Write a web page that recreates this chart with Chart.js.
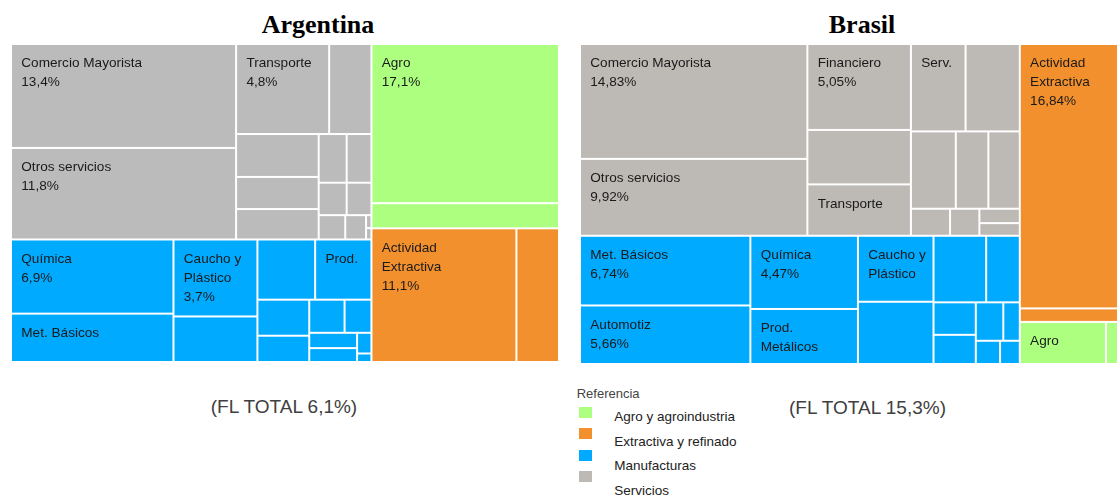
<!DOCTYPE html>
<html>
<head>
<meta charset="utf-8">
<script src="https://cdn.jsdelivr.net/npm/chart.js@4.4.0/dist/chart.umd.min.js"></script>
<style>
html, body { margin:0; padding:0; width:1117px; height:497px; overflow:hidden; background:#fff; font-family:"Liberation Sans", Arial, sans-serif; }
.abs { position:absolute; white-space:nowrap; }
.title { font-family:"Liberation Serif", "Times New Roman", serif; font-weight:bold; font-size:26px; line-height:26px; width:300px; text-align:center; color:#000; }
.fl { font-size:19px; line-height:19px; width:300px; text-align:center; color:#404040; }
.ref { font-size:13px; line-height:13px; color:#444; }
.item { font-size:13.5px; line-height:13.5px; color:#222; }
.sq { position:absolute; width:13px; height:11px; }
canvas { position:absolute; }
</style>
</head>
<body>
<div class="abs title" style="left:168px; top:12px">Argentina</div>
<div class="abs title" style="left:712px; top:12px">Brasil</div>
<canvas id="chartArg" width="548" height="318" style="left:11px; top:44px"></canvas>
<canvas id="chartBra" width="552" height="320" style="left:580px; top:44px"></canvas>
<div class="abs fl" style="left:134px; top:397.2px">(FL TOTAL 6,1%)</div>
<div class="abs fl" style="left:717.5px; top:398.2px">(FL TOTAL 15,3%)</div>
<div id="legend"></div>
<script>
// groups / colors (legend order)
const groupNames = ['Agro y agroindustria', 'Extractiva y refinado', 'Manufacturas', 'Servicios'];
const groupColors = ['#ADFF80', '#F2902E', '#00AAFF', '#BDBAB6'];
const argGrey = '#BBBBBB';

// Argentina (% of total)
const argServ = [13.4, 11.8, 4.8, 2.18, 2.03, 1.52, 1.44, 0.78, 0.69, 0.52, 0.46, 0.37, 0.29, 0.04, 0.035];
const argServNames = ['Comercio Mayorista', 'Otros servicios', 'Transporte'];
const argServPct = [1, 1, 1];
const argManuf = [6.9, 4.5, 3.7, 2.19, 1.99, 1.94, 1.07, 0.78, 0.67, 0.51, 0.42, 0.38, 0.17, 0.07];
const argManufNames = ['Química', 'Met. Básicos', 'Caucho y\nPlástico', '', '', 'Prod.'];
const argManufPct = [1, 0, 1];
const argAgro = [17.1, 2.7];
const argAgroNames = ['Agro'];
const argAgroPct = [1];
const argExtr = [11.1, 3.26];
const argExtrNames = ['Actividad\nExtractiva'];
const argExtrPct = [1];

// Brasil
const braServ = [14.83, 9.92, 5.05, 3.20, 3.02, 2.71, 2.69, 1.97, 1.43, 1.38, 0.60, 0.45, 0.33, 0.29];
const braServNames = ['Comercio Mayorista', 'Otros servicios', 'Financiero', '', 'Transporte', 'Serv.'];
const braServPct = [1, 1, 1];
const braManuf = [6.74, 5.66, 4.47, 3.36, 2.83, 2.67, 1.99, 1.27, 0.78, 0.70, 0.60, 0.36, 0.32, 0.26];
const braManufNames = ['Met. Básicos', 'Automotiz', 'Química', 'Prod.\nMetálicos', 'Caucho y\nPlástico'];
const braManufPct = [1, 1, 1];
const braExtr = [16.84, 0.86];
const braExtrNames = ['Actividad\nExtractiva'];
const braExtrPct = [1];
const braAgro = [2.06, 0.62];
const braAgroNames = ['Agro'];
const braAgroPct = [0];

// strip layout: v = column (stacked), h = row (side by side), number = items in the strip
function slice(values, spec, box) {
    let out = [];
    let rest = values.reduce((a, b) => a + b, 0);
    let b = Object.assign({}, box);
    let i = 0;
    spec.split(' ').forEach(step => {
        let n = +step.slice(1);
        let part = values.slice(i, i + n);
        let s = part.reduce((a, c) => a + c, 0);
        if (step[0] === 'v') {
            let xm = b.x0 + (b.x1 - b.x0) * s / rest;
            let y = b.y0;
            part.forEach(v => {
                let y2 = y + (b.y1 - b.y0) * v / s;
                out.push({x0: b.x0, x1: xm, y0: y, y1: y2});
                y = y2;
            });
            b.x0 = xm;
        } else {
            let ym = b.y0 + (b.y1 - b.y0) * s / rest;
            let x = b.x0;
            part.forEach(v => {
                let x2 = x + (b.x1 - b.x0) * v / s;
                out.push({x0: x, x1: x2, y0: b.y0, y1: ym});
                x = x2;
            });
            b.y0 = ym;
        }
        rest -= s;
        i += n;
    });
    return out;
}

function sum(a) { return a.reduce((p, c) => p + c, 0); }

// groups: [{values, names, pct, color, spec}], in layout order
function buildDatasets(groups, topSpec) {
    let boxes = slice(groups.map(g => sum(g.values)), topSpec, {x0: 0, x1: 100, y0: 0, y1: 100});
    return groups.map((g, gi) => {
        let cells = slice(g.values, g.spec, boxes[gi]);
        return {
            label: g.label,
            backgroundColor: g.color,
            pointRadius: 0,
            data: cells.map((c, k) => Object.assign(c, {
                x: (c.x0 + c.x1) / 2,
                y: (c.y0 + c.y1) / 2,
                v: g.values[k],
                name: g.names[k] || '',
                pct: g.pct[k] || 0
            }))
        };
    });
}

const cellPlugin = {
    id: 'cells',
    afterDatasetsDraw(chart, args, opts) {
        let ctx = chart.ctx, xs = chart.scales.x, ys = chart.scales.y;
        ctx.save();
        chart.data.datasets.forEach(ds => {
            ds.data.forEach(c => {
                let l = xs.getPixelForValue(c.x0), r = xs.getPixelForValue(c.x1);
                let t = ys.getPixelForValue(c.y0), btm = ys.getPixelForValue(c.y1);
                ctx.fillStyle = ds.backgroundColor;
                ctx.fillRect(l + 1, t + 1, r - l - 2, btm - t - 2);
                if (!c.name) return;
                let lines = c.name.split('\n');
                if (c.pct) lines.push(c.v.toFixed(opts.decimals).replace('.', ',') + '%');
                ctx.fillStyle = '#1a1a1a';
                ctx.font = '13.6px "Liberation Sans", Arial, sans-serif';
                ctx.textBaseline = 'middle';
                ctx.textAlign = 'left';
                lines.forEach((txt, k) => ctx.fillText(txt, l + 10.3, t + 19.5 + k * 19));
            });
        });
        ctx.restore();
    }
};

function makeChart(id, datasets, decimals) {
    return new Chart(document.getElementById(id), {
        type: 'scatter',
        data: {datasets: datasets},
        options: {
            responsive: false,
            animation: false,
            events: [],
            layout: {padding: 0},
            plugins: {
                legend: {display: false},
                tooltip: {enabled: false},
                title: {display: false},
                cells: {decimals: decimals}
            },
            scales: {
                x: {type: 'linear', min: 0, max: 100, display: false},
                y: {type: 'linear', min: 0, max: 100, reverse: true, display: false}
            }
        },
        plugins: [cellPlugin]
    });
}

makeChart('chartArg', buildDatasets([
    {label: groupNames[3], values: argServ, names: argServNames, pct: argServPct, color: argGrey, spec: 'v2 h2 v3 h2 h2 v1 v1 h1 h1'},
    {label: groupNames[2], values: argManuf, names: argManufNames, pct: argManufPct, color: groupColors[2], spec: 'v2 v2 h2 v2 h2 v2 h1 h1'},
    {label: groupNames[0], values: argAgro, names: argAgroNames, pct: argAgroPct, color: groupColors[0], spec: 'h1 h1'},
    {label: groupNames[1], values: argExtr, names: argExtrNames, pct: argExtrPct, color: groupColors[1], spec: 'v1 v1'}
], 'v2 h1 h1'), 1);

makeChart('chartBra', buildDatasets([
    {label: groupNames[3], values: braServ, names: braServNames, pct: braServPct, color: groupColors[3], spec: 'v2 v3 h2 h3 v1 v1 v2'},
    {label: groupNames[2], values: braManuf, names: braManufNames, pct: braManufPct, color: groupColors[2], spec: 'v2 v2 v2 h2 v2 h2 h2'},
    {label: groupNames[1], values: braExtr, names: braExtrNames, pct: braExtrPct, color: groupColors[1], spec: 'h1 h1'},
    {label: groupNames[0], values: braAgro, names: braAgroNames, pct: braAgroPct, color: groupColors[0], spec: 'v1 v1'}
], 'v2 h1 h1'), 2);

// legend ("Referencia")
let leg = document.getElementById('legend');
let html = '<div class="abs ref" style="left:576.7px; top:387.2px">Referencia</div>';
groupNames.forEach((n, i) => {
    html += '<div class="sq" style="left:579px; top:' + (407 + i * 21.3) + 'px; background:' + groupColors[i] + '"></div>';
    html += '<div class="abs item" style="left:614.3px; top:' + (410.3 + i * 24.45) + 'px">' + n + '</div>';
});
leg.innerHTML = html;
</script>
</body>
</html>
